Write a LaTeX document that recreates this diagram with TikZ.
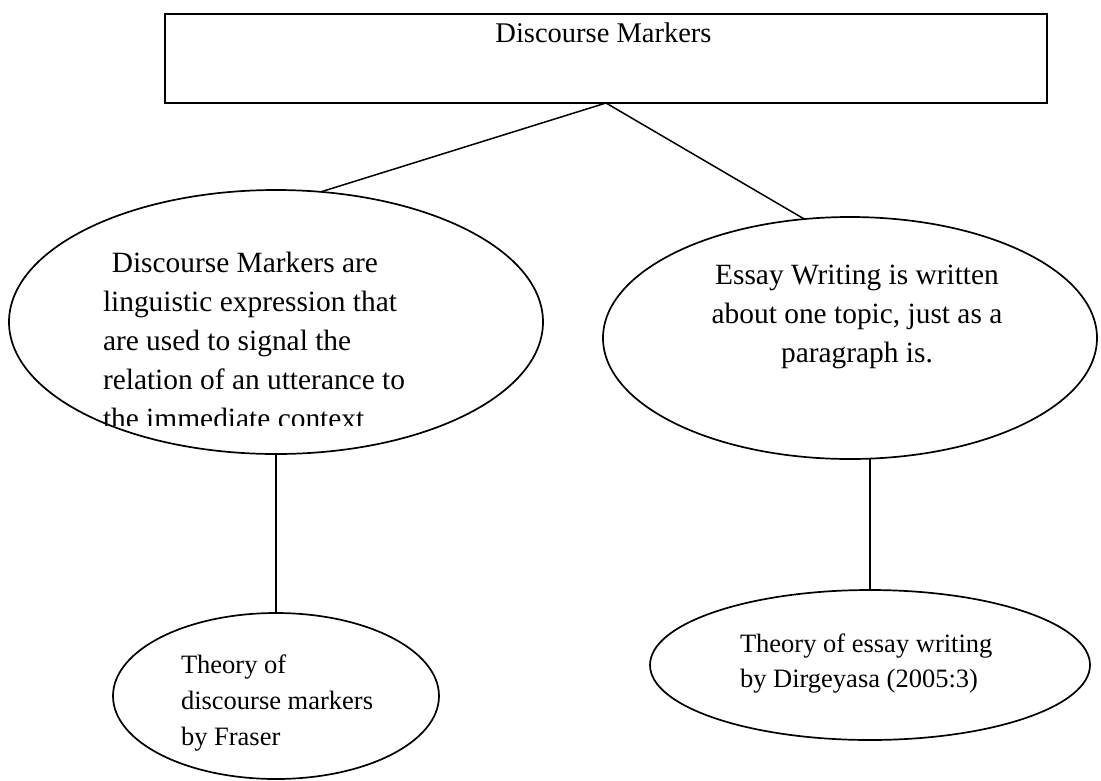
\documentclass[tikz,border=0pt]{standalone}
\usepackage{fontspec}
\setmainfont{Liberation Serif}
\usetikzlibrary{shapes.geometric,positioning}
\begin{document}
\begin{tikzpicture}[
                x=1pt, y=-1pt,
                every node/.style={inner sep=0pt, outer sep=0pt},
                bubble/.style={ellipse, draw, line width=1.7pt},
                box/.style={rectangle, draw, line width=1.9pt},
                bigtxt/.style={font=\fontsize{29.4}{38.8}\selectfont},
                smalltxt/.style={font=\fontsize{26.5}{36}\selectfont},
                line width=1.5pt,
            ]
            \useasboundingbox (0,0) rectangle (1101,780);
            \node[box, minimum width=882pt, minimum height=89pt] (dm) at (606,58.5) {};
            \node[anchor=base, font=\fontsize{28.5}{32}\selectfont] (dmtitle) at (603.5,42) {Discourse Markers};
            \node[bubble, minimum width=534pt, minimum height=264pt] (le) at (276,322) {};
            \node[bubble, minimum width=494pt, minimum height=242pt] (re) at (850,338) {};
            \node[bubble, minimum width=326pt, minimum height=166pt] (dl) at (276,696) {};
            \node[bubble, minimum width=440pt, minimum height=150pt] (dr) at (870,665) {};
            \begin{scope}
                \clip (95,240) rectangle (530,425);
                \node[bigtxt, anchor=base west, align=left] (letext) at (103,428)
                    {\hspace*{0.3em}Discourse Markers are\\linguistic expression that\\are used to signal the\\relation of an utterance to\\the immediate context};
            \end{scope}
            \node[bigtxt, anchor=base, align=center] (retext) at (857,362)
                {Essay Writing is written\\about one topic, just as a\\paragraph is.};
            \node[smalltxt, anchor=base west, align=left] (dltext) at (181,745)
                {Theory of\\discourse markers\\by Fraser};
            \node[smalltxt, anchor=base west, align=left, font=\fontsize{26.5}{35}\selectfont] (drtext) at (740,687)
                {Theory of essay writing\\by Dirgeyasa (2005:3)};
            \draw (dm.south) -- (le.71);
            \draw (dm.south) -- (re.111);
            \draw (le.south) -- (dl.north);
            \draw (dr.north |- re.south) -- (dr.north);
            \end{tikzpicture}
\end{document}
